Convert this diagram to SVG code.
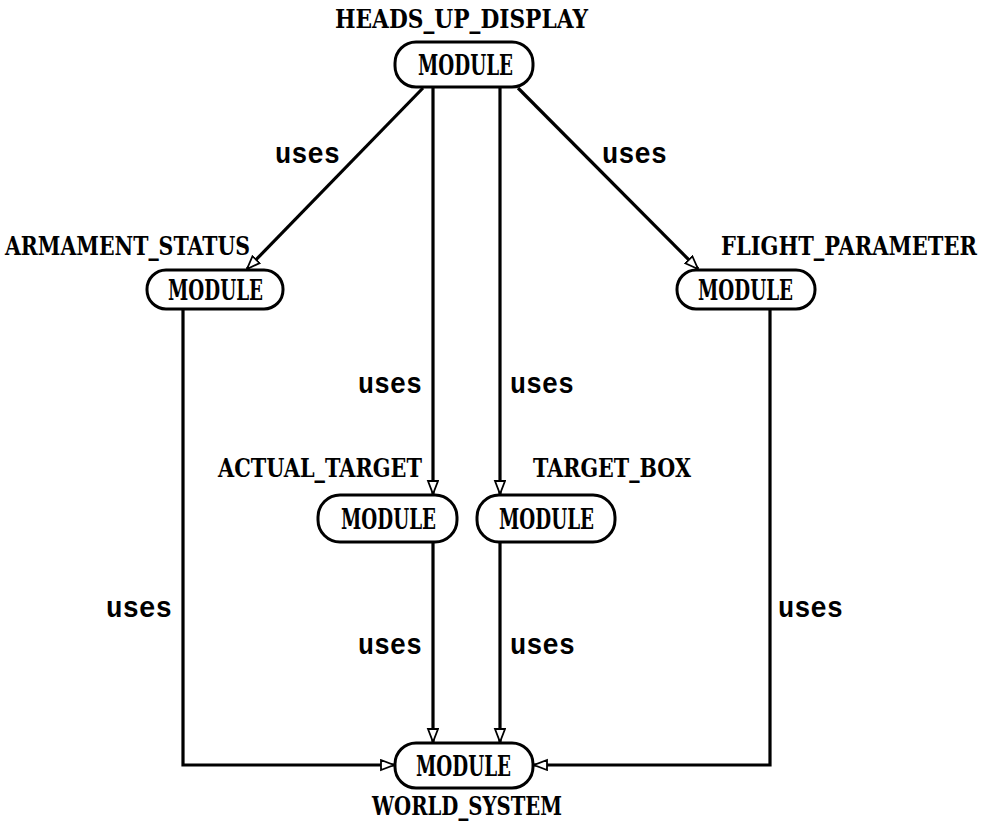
<svg xmlns="http://www.w3.org/2000/svg" width="988" height="824" viewBox="0 0 988 824">
<defs>
<style>
.box{fill:#fff;stroke:#000;stroke-width:3}
.mod{font-family:"DejaVu Serif","Liberation Serif",serif;font-weight:bold;font-size:27px;fill:#000}
.lbl{font-family:"DejaVu Serif","Liberation Serif",serif;font-weight:bold;font-size:26px;fill:#000}
.use{font-family:"Liberation Mono","DejaVu Sans Mono",monospace;font-weight:bold;font-size:29px;fill:#000}
.ln{fill:none;stroke:#000;stroke-width:3.2;marker-end:url(#arr)}
</style>
<marker id="arr" markerUnits="userSpaceOnUse" markerWidth="16" markerHeight="14" refX="14" refY="6" orient="auto">
<path d="M1,1 L14,6 L1,11 Z" fill="#fff" stroke="#000" stroke-width="1.8"/>
</marker>
</defs>
<rect width="988" height="824" fill="#fff"/>
<g id="connectors">
<path class="ln" d="M423,88 L247,269"/>
<path class="ln" d="M433,88 L433,494"/>
<path class="ln" d="M500,88 L500,494"/>
<path class="ln" d="M518,88 L698,269"/>
<path class="ln" d="M183,309 L183,765 L394,765"/>
<path class="ln" d="M433,543 L433,742"/>
<path class="ln" d="M500,543 L500,742"/>
<path class="ln" d="M770,309 L770,765 L534,765"/>
<text class="use" x="275" y="163" textLength="65" lengthAdjust="spacingAndGlyphs">uses</text>
<text class="use" x="602" y="163" textLength="65" lengthAdjust="spacingAndGlyphs">uses</text>
<text class="use" x="358" y="393" textLength="64" lengthAdjust="spacingAndGlyphs">uses</text>
<text class="use" x="510" y="393" textLength="64" lengthAdjust="spacingAndGlyphs">uses</text>
<text class="use" x="106" y="617" textLength="66" lengthAdjust="spacingAndGlyphs">uses</text>
<text class="use" x="778" y="617" textLength="65" lengthAdjust="spacingAndGlyphs">uses</text>
<text class="use" x="358" y="654" textLength="64" lengthAdjust="spacingAndGlyphs">uses</text>
<text class="use" x="510" y="654" textLength="65" lengthAdjust="spacingAndGlyphs">uses</text>
</g>
<g id="heads_up_display">
<text class="lbl" x="335" y="28" textLength="253" lengthAdjust="spacingAndGlyphs">HEADS_UP_DISPLAY</text>
<rect class="box" x="395" y="42" width="138" height="45" rx="21"/>
<text class="mod" x="418" y="75" textLength="95" lengthAdjust="spacingAndGlyphs">MODULE</text>
</g>
<g id="armament_status">
<text class="lbl" x="5" y="255" textLength="245" lengthAdjust="spacingAndGlyphs">ARMAMENT_STATUS</text>
<rect class="box" x="147" y="270" width="136" height="39" rx="19"/>
<text class="mod" x="168" y="300" textLength="95" lengthAdjust="spacingAndGlyphs">MODULE</text>
</g>
<g id="flight_parameter">
<text class="lbl" transform="translate(721,255) scale(0.82,1)" x="0" y="0" textLength="312" lengthAdjust="spacingAndGlyphs">FLIGHT_PARAMETER</text>
<rect class="box" x="677" y="270" width="138" height="39" rx="19"/>
<text class="mod" x="698" y="300" textLength="95" lengthAdjust="spacingAndGlyphs">MODULE</text>
</g>
<g id="actual_target">
<text class="lbl" x="218" y="477" textLength="204" lengthAdjust="spacingAndGlyphs">ACTUAL_TARGET</text>
<rect class="box" x="318" y="495" width="139" height="47" rx="22"/>
<text class="mod" x="341" y="529" textLength="95" lengthAdjust="spacingAndGlyphs">MODULE</text>
</g>
<g id="target_box">
<text class="lbl" x="533" y="477" textLength="158" lengthAdjust="spacingAndGlyphs">TARGET_BOX</text>
<rect class="box" x="477" y="495" width="138" height="47" rx="22"/>
<text class="mod" x="499" y="529" textLength="95" lengthAdjust="spacingAndGlyphs">MODULE</text>
</g>
<g id="world_system">
<rect class="box" x="395" y="743" width="138" height="45" rx="21"/>
<text class="mod" x="416" y="776" textLength="95" lengthAdjust="spacingAndGlyphs">MODULE</text>
<text class="lbl" x="372" y="815" textLength="190" lengthAdjust="spacingAndGlyphs">WORLD_SYSTEM</text>
</g>
</svg>
